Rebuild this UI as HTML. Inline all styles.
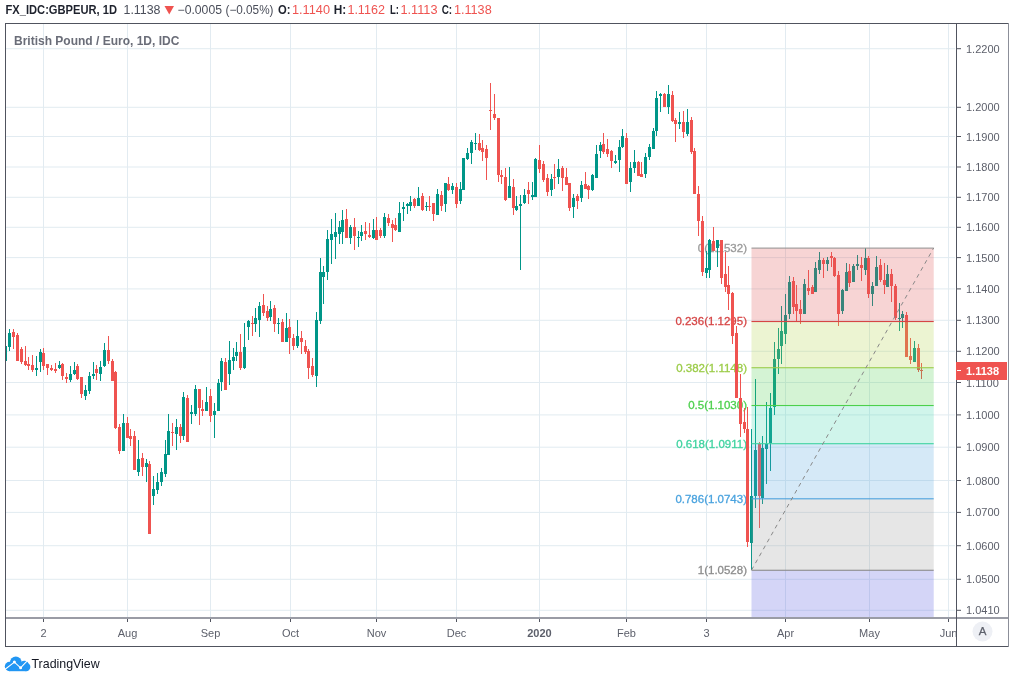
<!DOCTYPE html>
<html><head><meta charset="utf-8"><title>GBPEUR</title>
<style>
html,body{margin:0;padding:0;background:#fff;}
body{width:1010px;height:673px;overflow:hidden;position:relative;}
svg{position:absolute;left:0;top:0;display:block;}
text{font-family:'Liberation Sans', Arial, sans-serif;}
</style></head><body>
<svg width="1010" height="673" viewBox="0 0 1010 673" shape-rendering="crispEdges">
<defs><clipPath id="pane"><rect x="6" y="24" width="950" height="594"/></clipPath></defs>
<rect x="0" y="0" width="1010" height="673" fill="#ffffff"/>

<g>
<rect x="43" y="24" width="1" height="594" fill="#e2ebf1"/>
<rect x="127" y="24" width="1" height="594" fill="#e2ebf1"/>
<rect x="210" y="24" width="1" height="594" fill="#e2ebf1"/>
<rect x="290" y="24" width="1" height="594" fill="#e2ebf1"/>
<rect x="376" y="24" width="1" height="594" fill="#e2ebf1"/>
<rect x="456" y="24" width="1" height="594" fill="#e2ebf1"/>
<rect x="539" y="24" width="1" height="594" fill="#e2ebf1"/>
<rect x="626" y="24" width="1" height="594" fill="#e2ebf1"/>
<rect x="706" y="24" width="1" height="594" fill="#e2ebf1"/>
<rect x="785" y="24" width="1" height="594" fill="#e2ebf1"/>
<rect x="869" y="24" width="1" height="594" fill="#e2ebf1"/>
<rect x="948" y="24" width="1" height="594" fill="#e2ebf1"/>
<rect x="6" y="48.20" width="949" height="1" fill="#e2ebf1" shape-rendering="auto"/>
<rect x="6" y="106.80" width="949" height="1" fill="#e2ebf1" shape-rendering="auto"/>
<rect x="6" y="136.00" width="949" height="1" fill="#e2ebf1" shape-rendering="auto"/>
<rect x="6" y="166.50" width="949" height="1" fill="#e2ebf1" shape-rendering="auto"/>
<rect x="6" y="196.80" width="949" height="1" fill="#e2ebf1" shape-rendering="auto"/>
<rect x="6" y="226.80" width="949" height="1" fill="#e2ebf1" shape-rendering="auto"/>
<rect x="6" y="257.10" width="949" height="1" fill="#e2ebf1" shape-rendering="auto"/>
<rect x="6" y="288.40" width="949" height="1" fill="#e2ebf1" shape-rendering="auto"/>
<rect x="6" y="319.80" width="949" height="1" fill="#e2ebf1" shape-rendering="auto"/>
<rect x="6" y="350.80" width="949" height="1" fill="#e2ebf1" shape-rendering="auto"/>
<rect x="6" y="382.00" width="949" height="1" fill="#e2ebf1" shape-rendering="auto"/>
<rect x="6" y="414.40" width="949" height="1" fill="#e2ebf1" shape-rendering="auto"/>
<rect x="6" y="446.70" width="949" height="1" fill="#e2ebf1" shape-rendering="auto"/>
<rect x="6" y="480.00" width="949" height="1" fill="#e2ebf1" shape-rendering="auto"/>
<rect x="6" y="511.90" width="949" height="1" fill="#e2ebf1" shape-rendering="auto"/>
<rect x="6" y="545.20" width="949" height="1" fill="#e2ebf1" shape-rendering="auto"/>
<rect x="6" y="578.80" width="949" height="1" fill="#e2ebf1" shape-rendering="auto"/>
<rect x="6" y="609.80" width="949" height="1" fill="#e2ebf1" shape-rendering="auto"/>
</g>
<text x="747" y="251.95" font-size="11.5" fill="#999999" stroke="#999999" stroke-width="0.3" text-anchor="end">0(1.1532)</text>
<text x="747" y="325.38" font-size="11.5" fill="#d64545" stroke="#d64545" stroke-width="0.3" text-anchor="end">0.236(1.1295)</text>
<text x="747" y="371.58" font-size="11.5" fill="#9ccc49" stroke="#9ccc49" stroke-width="0.3" text-anchor="end">0.382(1.1148)</text>
<text x="747" y="409.37" font-size="11.5" fill="#4cd04c" stroke="#4cd04c" stroke-width="0.3" text-anchor="end">0.5(1.1030)</text>
<text x="747" y="447.56" font-size="11.5" fill="#3fd3a0" stroke="#3fd3a0" stroke-width="0.3" text-anchor="end">0.618(1.0911)</text>
<text x="747" y="502.66" font-size="11.5" fill="#4aa3df" stroke="#4aa3df" stroke-width="0.3" text-anchor="end">0.786(1.0743)</text>
<text x="747" y="574.11" font-size="11.5" fill="#8c8c8c" stroke="#8c8c8c" stroke-width="0.3" text-anchor="end">1(1.0528)</text>
<g clip-path="url(#pane)">
<rect x="5" y="345" width="1" height="17" fill="#009688"/>
<rect x="4" y="346" width="3" height="15" fill="#009688"/>
<rect x="9" y="329" width="1" height="22" fill="#009688"/>
<rect x="8" y="333" width="3" height="14" fill="#009688"/>
<rect x="13" y="329" width="1" height="20" fill="#ef5350"/>
<rect x="12" y="332" width="3" height="5" fill="#ef5350"/>
<rect x="17" y="333" width="1" height="28" fill="#ef5350"/>
<rect x="16" y="335" width="3" height="26" fill="#ef5350"/>
<rect x="21" y="347" width="1" height="17" fill="#ef5350"/>
<rect x="20" y="349" width="3" height="13" fill="#ef5350"/>
<rect x="25" y="346" width="1" height="20" fill="#ef5350"/>
<rect x="24" y="361" width="3" height="4" fill="#ef5350"/>
<rect x="28" y="357" width="1" height="13" fill="#ef5350"/>
<rect x="27" y="364" width="3" height="2" fill="#ef5350"/>
<rect x="32" y="355" width="1" height="17" fill="#ef5350"/>
<rect x="31" y="365" width="3" height="5" fill="#ef5350"/>
<rect x="36" y="356" width="1" height="20" fill="#009688"/>
<rect x="35" y="368" width="3" height="2" fill="#009688"/>
<rect x="40" y="349" width="1" height="23" fill="#009688"/>
<rect x="39" y="352" width="3" height="10" fill="#009688"/>
<rect x="43" y="348" width="1" height="22" fill="#ef5350"/>
<rect x="42" y="353" width="3" height="13" fill="#ef5350"/>
<rect x="47" y="364" width="1" height="11" fill="#ef5350"/>
<rect x="46" y="364" width="3" height="4" fill="#ef5350"/>
<rect x="51" y="365" width="1" height="6" fill="#ef5350"/>
<rect x="50" y="368" width="3" height="2" fill="#ef5350"/>
<rect x="55" y="363" width="1" height="10" fill="#ef5350"/>
<rect x="54" y="369" width="3" height="2" fill="#ef5350"/>
<rect x="59" y="361" width="1" height="8" fill="#009688"/>
<rect x="58" y="365" width="3" height="3" fill="#009688"/>
<rect x="62" y="363" width="1" height="17" fill="#ef5350"/>
<rect x="61" y="364" width="3" height="12" fill="#ef5350"/>
<rect x="66" y="373" width="1" height="10" fill="#ef5350"/>
<rect x="65" y="377" width="3" height="2" fill="#ef5350"/>
<rect x="70" y="366" width="1" height="16" fill="#009688"/>
<rect x="69" y="374" width="3" height="6" fill="#009688"/>
<rect x="74" y="362" width="1" height="13" fill="#009688"/>
<rect x="73" y="370" width="3" height="4" fill="#009688"/>
<rect x="77" y="364" width="1" height="16" fill="#ef5350"/>
<rect x="76" y="366" width="3" height="13" fill="#ef5350"/>
<rect x="81" y="377" width="1" height="21" fill="#ef5350"/>
<rect x="80" y="377" width="3" height="17" fill="#ef5350"/>
<rect x="85" y="385" width="1" height="15" fill="#009688"/>
<rect x="84" y="390" width="3" height="6" fill="#009688"/>
<rect x="89" y="372" width="1" height="22" fill="#009688"/>
<rect x="88" y="376" width="3" height="15" fill="#009688"/>
<rect x="93" y="362" width="1" height="17" fill="#009688"/>
<rect x="92" y="374" width="3" height="2" fill="#009688"/>
<rect x="96" y="365" width="1" height="15" fill="#ef5350"/>
<rect x="95" y="369" width="3" height="4" fill="#ef5350"/>
<rect x="100" y="361" width="1" height="20" fill="#009688"/>
<rect x="99" y="367" width="3" height="7" fill="#009688"/>
<rect x="104" y="343" width="1" height="24" fill="#009688"/>
<rect x="103" y="350" width="3" height="16" fill="#009688"/>
<rect x="108" y="336" width="1" height="28" fill="#ef5350"/>
<rect x="107" y="350" width="3" height="11" fill="#ef5350"/>
<rect x="112" y="359" width="1" height="22" fill="#ef5350"/>
<rect x="111" y="361" width="3" height="20" fill="#ef5350"/>
<rect x="115" y="371" width="1" height="58" fill="#ef5350"/>
<rect x="114" y="372" width="3" height="56" fill="#ef5350"/>
<rect x="119" y="424" width="1" height="30" fill="#ef5350"/>
<rect x="118" y="427" width="3" height="24" fill="#ef5350"/>
<rect x="123" y="414" width="1" height="37" fill="#009688"/>
<rect x="122" y="423" width="3" height="28" fill="#009688"/>
<rect x="127" y="417" width="1" height="21" fill="#ef5350"/>
<rect x="126" y="423" width="3" height="15" fill="#ef5350"/>
<rect x="130" y="429" width="1" height="17" fill="#ef5350"/>
<rect x="129" y="436" width="3" height="3" fill="#ef5350"/>
<rect x="134" y="431" width="1" height="39" fill="#ef5350"/>
<rect x="133" y="436" width="3" height="34" fill="#ef5350"/>
<rect x="138" y="440" width="1" height="36" fill="#009688"/>
<rect x="137" y="459" width="3" height="13" fill="#009688"/>
<rect x="142" y="453" width="1" height="23" fill="#ef5350"/>
<rect x="141" y="458" width="3" height="9" fill="#ef5350"/>
<rect x="146" y="459" width="1" height="23" fill="#009688"/>
<rect x="145" y="463" width="3" height="4" fill="#009688"/>
<rect x="149" y="461" width="1" height="73" fill="#ef5350"/>
<rect x="148" y="464" width="3" height="70" fill="#ef5350"/>
<rect x="153" y="476" width="1" height="29" fill="#009688"/>
<rect x="152" y="489" width="3" height="7" fill="#009688"/>
<rect x="157" y="473" width="1" height="21" fill="#009688"/>
<rect x="156" y="482" width="3" height="8" fill="#009688"/>
<rect x="161" y="468" width="1" height="18" fill="#009688"/>
<rect x="160" y="472" width="3" height="10" fill="#009688"/>
<rect x="165" y="440" width="1" height="37" fill="#009688"/>
<rect x="164" y="454" width="3" height="20" fill="#009688"/>
<rect x="168" y="414" width="1" height="41" fill="#009688"/>
<rect x="167" y="431" width="3" height="24" fill="#009688"/>
<rect x="172" y="423" width="1" height="23" fill="#ef5350"/>
<rect x="171" y="432" width="3" height="1" fill="#ef5350"/>
<rect x="176" y="419" width="1" height="31" fill="#009688"/>
<rect x="175" y="427" width="3" height="7" fill="#009688"/>
<rect x="180" y="424" width="1" height="19" fill="#ef5350"/>
<rect x="179" y="427" width="3" height="9" fill="#ef5350"/>
<rect x="183" y="392" width="1" height="48" fill="#009688"/>
<rect x="182" y="397" width="3" height="39" fill="#009688"/>
<rect x="187" y="395" width="1" height="47" fill="#ef5350"/>
<rect x="186" y="398" width="3" height="44" fill="#ef5350"/>
<rect x="191" y="405" width="1" height="19" fill="#009688"/>
<rect x="190" y="412" width="3" height="2" fill="#009688"/>
<rect x="195" y="385" width="1" height="31" fill="#009688"/>
<rect x="194" y="389" width="3" height="25" fill="#009688"/>
<rect x="199" y="389" width="1" height="36" fill="#ef5350"/>
<rect x="198" y="389" width="3" height="19" fill="#ef5350"/>
<rect x="202" y="400" width="1" height="16" fill="#ef5350"/>
<rect x="201" y="409" width="3" height="2" fill="#ef5350"/>
<rect x="206" y="387" width="1" height="24" fill="#009688"/>
<rect x="205" y="402" width="3" height="9" fill="#009688"/>
<rect x="210" y="389" width="1" height="33" fill="#ef5350"/>
<rect x="209" y="396" width="3" height="20" fill="#ef5350"/>
<rect x="214" y="403" width="1" height="35" fill="#009688"/>
<rect x="213" y="411" width="3" height="4" fill="#009688"/>
<rect x="218" y="379" width="1" height="32" fill="#009688"/>
<rect x="217" y="383" width="3" height="28" fill="#009688"/>
<rect x="221" y="358" width="1" height="33" fill="#009688"/>
<rect x="220" y="361" width="3" height="21" fill="#009688"/>
<rect x="225" y="358" width="1" height="32" fill="#ef5350"/>
<rect x="224" y="362" width="3" height="28" fill="#ef5350"/>
<rect x="229" y="341" width="1" height="44" fill="#009688"/>
<rect x="228" y="360" width="3" height="14" fill="#009688"/>
<rect x="233" y="348" width="1" height="22" fill="#009688"/>
<rect x="232" y="357" width="3" height="4" fill="#009688"/>
<rect x="236" y="342" width="1" height="19" fill="#009688"/>
<rect x="235" y="352" width="3" height="4" fill="#009688"/>
<rect x="240" y="334" width="1" height="36" fill="#ef5350"/>
<rect x="239" y="352" width="3" height="16" fill="#ef5350"/>
<rect x="244" y="323" width="1" height="46" fill="#009688"/>
<rect x="243" y="347" width="3" height="21" fill="#009688"/>
<rect x="248" y="320" width="1" height="20" fill="#009688"/>
<rect x="247" y="321" width="3" height="6" fill="#009688"/>
<rect x="252" y="316" width="1" height="20" fill="#ef5350"/>
<rect x="251" y="323" width="3" height="1" fill="#ef5350"/>
<rect x="255" y="308" width="1" height="24" fill="#009688"/>
<rect x="254" y="318" width="3" height="6" fill="#009688"/>
<rect x="259" y="302" width="1" height="35" fill="#009688"/>
<rect x="258" y="306" width="3" height="14" fill="#009688"/>
<rect x="263" y="294" width="1" height="22" fill="#ef5350"/>
<rect x="262" y="305" width="3" height="8" fill="#ef5350"/>
<rect x="267" y="306" width="1" height="15" fill="#ef5350"/>
<rect x="266" y="311" width="3" height="7" fill="#ef5350"/>
<rect x="270" y="301" width="1" height="20" fill="#009688"/>
<rect x="269" y="309" width="3" height="8" fill="#009688"/>
<rect x="274" y="305" width="1" height="27" fill="#ef5350"/>
<rect x="273" y="308" width="3" height="16" fill="#ef5350"/>
<rect x="278" y="318" width="1" height="16" fill="#009688"/>
<rect x="277" y="323" width="3" height="1" fill="#009688"/>
<rect x="282" y="319" width="1" height="23" fill="#ef5350"/>
<rect x="281" y="322" width="3" height="20" fill="#ef5350"/>
<rect x="286" y="313" width="1" height="29" fill="#009688"/>
<rect x="285" y="328" width="3" height="14" fill="#009688"/>
<rect x="289" y="319" width="1" height="35" fill="#ef5350"/>
<rect x="288" y="327" width="3" height="11" fill="#ef5350"/>
<rect x="293" y="334" width="1" height="16" fill="#ef5350"/>
<rect x="292" y="338" width="3" height="8" fill="#ef5350"/>
<rect x="297" y="320" width="1" height="28" fill="#009688"/>
<rect x="296" y="336" width="3" height="10" fill="#009688"/>
<rect x="301" y="331" width="1" height="23" fill="#ef5350"/>
<rect x="300" y="338" width="3" height="4" fill="#ef5350"/>
<rect x="305" y="340" width="1" height="14" fill="#ef5350"/>
<rect x="304" y="346" width="3" height="6" fill="#ef5350"/>
<rect x="308" y="349" width="1" height="30" fill="#ef5350"/>
<rect x="307" y="351" width="3" height="17" fill="#ef5350"/>
<rect x="312" y="358" width="1" height="19" fill="#ef5350"/>
<rect x="311" y="366" width="3" height="9" fill="#ef5350"/>
<rect x="316" y="312" width="1" height="75" fill="#009688"/>
<rect x="315" y="320" width="3" height="56" fill="#009688"/>
<rect x="320" y="258" width="1" height="66" fill="#009688"/>
<rect x="319" y="272" width="3" height="49" fill="#009688"/>
<rect x="323" y="266" width="1" height="38" fill="#009688"/>
<rect x="322" y="272" width="3" height="5" fill="#009688"/>
<rect x="327" y="230" width="1" height="50" fill="#009688"/>
<rect x="326" y="239" width="3" height="33" fill="#009688"/>
<rect x="331" y="219" width="1" height="45" fill="#009688"/>
<rect x="330" y="234" width="3" height="6" fill="#009688"/>
<rect x="335" y="213" width="1" height="46" fill="#009688"/>
<rect x="334" y="232" width="3" height="5" fill="#009688"/>
<rect x="339" y="221" width="1" height="23" fill="#009688"/>
<rect x="338" y="227" width="3" height="7" fill="#009688"/>
<rect x="342" y="210" width="1" height="34" fill="#009688"/>
<rect x="341" y="220" width="3" height="12" fill="#009688"/>
<rect x="346" y="209" width="1" height="29" fill="#ef5350"/>
<rect x="345" y="219" width="3" height="19" fill="#ef5350"/>
<rect x="350" y="225" width="1" height="19" fill="#009688"/>
<rect x="349" y="227" width="3" height="11" fill="#009688"/>
<rect x="354" y="218" width="1" height="32" fill="#ef5350"/>
<rect x="353" y="227" width="3" height="9" fill="#ef5350"/>
<rect x="358" y="231" width="1" height="16" fill="#009688"/>
<rect x="357" y="237" width="3" height="1" fill="#009688"/>
<rect x="361" y="225" width="1" height="16" fill="#009688"/>
<rect x="360" y="232" width="3" height="4" fill="#009688"/>
<rect x="365" y="222" width="1" height="18" fill="#ef5350"/>
<rect x="364" y="231" width="3" height="3" fill="#ef5350"/>
<rect x="369" y="223" width="1" height="15" fill="#ef5350"/>
<rect x="368" y="235" width="3" height="2" fill="#ef5350"/>
<rect x="373" y="219" width="1" height="20" fill="#009688"/>
<rect x="372" y="230" width="3" height="8" fill="#009688"/>
<rect x="376" y="217" width="1" height="23" fill="#ef5350"/>
<rect x="375" y="230" width="3" height="10" fill="#ef5350"/>
<rect x="380" y="228" width="1" height="10" fill="#ef5350"/>
<rect x="379" y="230" width="3" height="6" fill="#ef5350"/>
<rect x="384" y="213" width="1" height="25" fill="#009688"/>
<rect x="383" y="217" width="3" height="19" fill="#009688"/>
<rect x="388" y="214" width="1" height="12" fill="#ef5350"/>
<rect x="387" y="218" width="3" height="5" fill="#ef5350"/>
<rect x="392" y="220" width="1" height="22" fill="#ef5350"/>
<rect x="391" y="224" width="3" height="4" fill="#ef5350"/>
<rect x="395" y="218" width="1" height="13" fill="#ef5350"/>
<rect x="394" y="225" width="3" height="5" fill="#ef5350"/>
<rect x="399" y="202" width="1" height="30" fill="#009688"/>
<rect x="398" y="213" width="3" height="19" fill="#009688"/>
<rect x="403" y="202" width="1" height="19" fill="#009688"/>
<rect x="402" y="207" width="3" height="2" fill="#009688"/>
<rect x="407" y="203" width="1" height="11" fill="#009688"/>
<rect x="406" y="204" width="3" height="2" fill="#009688"/>
<rect x="410" y="196" width="1" height="15" fill="#009688"/>
<rect x="409" y="202" width="3" height="4" fill="#009688"/>
<rect x="414" y="198" width="1" height="10" fill="#ef5350"/>
<rect x="413" y="199" width="3" height="7" fill="#ef5350"/>
<rect x="418" y="187" width="1" height="19" fill="#009688"/>
<rect x="417" y="198" width="3" height="8" fill="#009688"/>
<rect x="422" y="193" width="1" height="18" fill="#ef5350"/>
<rect x="421" y="196" width="3" height="14" fill="#ef5350"/>
<rect x="426" y="202" width="1" height="9" fill="#009688"/>
<rect x="425" y="206" width="3" height="1" fill="#009688"/>
<rect x="429" y="196" width="1" height="15" fill="#ef5350"/>
<rect x="428" y="206" width="3" height="1" fill="#ef5350"/>
<rect x="433" y="203" width="1" height="18" fill="#ef5350"/>
<rect x="432" y="203" width="3" height="11" fill="#ef5350"/>
<rect x="437" y="189" width="1" height="26" fill="#009688"/>
<rect x="436" y="194" width="3" height="21" fill="#009688"/>
<rect x="441" y="191" width="1" height="20" fill="#ef5350"/>
<rect x="440" y="195" width="3" height="11" fill="#ef5350"/>
<rect x="445" y="183" width="1" height="29" fill="#009688"/>
<rect x="444" y="183" width="3" height="21" fill="#009688"/>
<rect x="448" y="177" width="1" height="14" fill="#ef5350"/>
<rect x="447" y="184" width="3" height="6" fill="#ef5350"/>
<rect x="452" y="183" width="1" height="11" fill="#009688"/>
<rect x="451" y="186" width="3" height="4" fill="#009688"/>
<rect x="456" y="183" width="1" height="25" fill="#ef5350"/>
<rect x="455" y="187" width="3" height="17" fill="#ef5350"/>
<rect x="460" y="182" width="1" height="22" fill="#009688"/>
<rect x="459" y="189" width="3" height="12" fill="#009688"/>
<rect x="463" y="158" width="1" height="32" fill="#009688"/>
<rect x="462" y="158" width="3" height="32" fill="#009688"/>
<rect x="467" y="148" width="1" height="12" fill="#009688"/>
<rect x="466" y="153" width="3" height="6" fill="#009688"/>
<rect x="471" y="140" width="1" height="24" fill="#009688"/>
<rect x="470" y="142" width="3" height="11" fill="#009688"/>
<rect x="475" y="133" width="1" height="17" fill="#009688"/>
<rect x="474" y="143" width="3" height="1" fill="#009688"/>
<rect x="479" y="134" width="1" height="17" fill="#ef5350"/>
<rect x="478" y="143" width="3" height="7" fill="#ef5350"/>
<rect x="482" y="140" width="1" height="21" fill="#ef5350"/>
<rect x="481" y="148" width="3" height="4" fill="#ef5350"/>
<rect x="486" y="145" width="1" height="35" fill="#ef5350"/>
<rect x="485" y="149" width="3" height="9" fill="#ef5350"/>
<rect x="490" y="83" width="1" height="47" fill="#ef5350"/>
<rect x="489" y="110" width="3" height="1" fill="#ef5350"/>
<rect x="494" y="94" width="1" height="26" fill="#ef5350"/>
<rect x="493" y="114" width="3" height="4" fill="#ef5350"/>
<rect x="498" y="118" width="1" height="64" fill="#ef5350"/>
<rect x="497" y="118" width="3" height="57" fill="#ef5350"/>
<rect x="501" y="170" width="1" height="14" fill="#ef5350"/>
<rect x="500" y="175" width="3" height="2" fill="#ef5350"/>
<rect x="505" y="168" width="1" height="33" fill="#ef5350"/>
<rect x="504" y="177" width="3" height="23" fill="#ef5350"/>
<rect x="509" y="167" width="1" height="31" fill="#009688"/>
<rect x="508" y="186" width="3" height="12" fill="#009688"/>
<rect x="513" y="179" width="1" height="36" fill="#ef5350"/>
<rect x="512" y="187" width="3" height="21" fill="#ef5350"/>
<rect x="516" y="196" width="1" height="15" fill="#009688"/>
<rect x="515" y="206" width="3" height="4" fill="#009688"/>
<rect x="520" y="195" width="1" height="75" fill="#009688"/>
<rect x="519" y="204" width="3" height="2" fill="#009688"/>
<rect x="524" y="189" width="1" height="15" fill="#009688"/>
<rect x="523" y="195" width="3" height="8" fill="#009688"/>
<rect x="528" y="182" width="1" height="22" fill="#ef5350"/>
<rect x="527" y="190" width="3" height="4" fill="#ef5350"/>
<rect x="532" y="182" width="1" height="18" fill="#009688"/>
<rect x="531" y="195" width="3" height="2" fill="#009688"/>
<rect x="535" y="158" width="1" height="39" fill="#009688"/>
<rect x="534" y="159" width="3" height="38" fill="#009688"/>
<rect x="539" y="145" width="1" height="28" fill="#ef5350"/>
<rect x="538" y="160" width="3" height="9" fill="#ef5350"/>
<rect x="543" y="161" width="1" height="21" fill="#ef5350"/>
<rect x="542" y="164" width="3" height="16" fill="#ef5350"/>
<rect x="547" y="174" width="1" height="22" fill="#ef5350"/>
<rect x="546" y="178" width="3" height="14" fill="#ef5350"/>
<rect x="551" y="174" width="1" height="22" fill="#009688"/>
<rect x="550" y="179" width="3" height="11" fill="#009688"/>
<rect x="554" y="164" width="1" height="25" fill="#ef5350"/>
<rect x="553" y="177" width="3" height="1" fill="#ef5350"/>
<rect x="558" y="159" width="1" height="25" fill="#009688"/>
<rect x="557" y="169" width="3" height="8" fill="#009688"/>
<rect x="562" y="166" width="1" height="25" fill="#ef5350"/>
<rect x="561" y="168" width="3" height="10" fill="#ef5350"/>
<rect x="566" y="168" width="1" height="17" fill="#ef5350"/>
<rect x="565" y="177" width="3" height="8" fill="#ef5350"/>
<rect x="569" y="183" width="1" height="28" fill="#ef5350"/>
<rect x="568" y="183" width="3" height="25" fill="#ef5350"/>
<rect x="573" y="194" width="1" height="24" fill="#009688"/>
<rect x="572" y="198" width="3" height="9" fill="#009688"/>
<rect x="577" y="194" width="1" height="15" fill="#ef5350"/>
<rect x="576" y="196" width="3" height="5" fill="#ef5350"/>
<rect x="581" y="181" width="1" height="21" fill="#009688"/>
<rect x="580" y="185" width="3" height="13" fill="#009688"/>
<rect x="585" y="172" width="1" height="17" fill="#ef5350"/>
<rect x="584" y="184" width="3" height="5" fill="#ef5350"/>
<rect x="588" y="185" width="1" height="14" fill="#ef5350"/>
<rect x="587" y="186" width="3" height="4" fill="#ef5350"/>
<rect x="592" y="174" width="1" height="17" fill="#009688"/>
<rect x="591" y="175" width="3" height="15" fill="#009688"/>
<rect x="596" y="145" width="1" height="33" fill="#009688"/>
<rect x="595" y="154" width="3" height="24" fill="#009688"/>
<rect x="600" y="142" width="1" height="16" fill="#009688"/>
<rect x="599" y="145" width="3" height="6" fill="#009688"/>
<rect x="603" y="133" width="1" height="21" fill="#ef5350"/>
<rect x="602" y="144" width="3" height="8" fill="#ef5350"/>
<rect x="607" y="139" width="1" height="18" fill="#ef5350"/>
<rect x="606" y="149" width="3" height="5" fill="#ef5350"/>
<rect x="611" y="150" width="1" height="18" fill="#ef5350"/>
<rect x="610" y="151" width="3" height="10" fill="#ef5350"/>
<rect x="615" y="155" width="1" height="9" fill="#009688"/>
<rect x="614" y="161" width="3" height="2" fill="#009688"/>
<rect x="619" y="140" width="1" height="32" fill="#009688"/>
<rect x="618" y="147" width="3" height="13" fill="#009688"/>
<rect x="622" y="129" width="1" height="19" fill="#009688"/>
<rect x="621" y="136" width="3" height="11" fill="#009688"/>
<rect x="626" y="133" width="1" height="51" fill="#ef5350"/>
<rect x="625" y="138" width="3" height="46" fill="#ef5350"/>
<rect x="630" y="162" width="1" height="30" fill="#009688"/>
<rect x="629" y="168" width="3" height="14" fill="#009688"/>
<rect x="634" y="150" width="1" height="23" fill="#009688"/>
<rect x="633" y="162" width="3" height="6" fill="#009688"/>
<rect x="638" y="161" width="1" height="15" fill="#ef5350"/>
<rect x="637" y="162" width="3" height="14" fill="#ef5350"/>
<rect x="641" y="162" width="1" height="15" fill="#ef5350"/>
<rect x="640" y="174" width="3" height="3" fill="#ef5350"/>
<rect x="645" y="153" width="1" height="25" fill="#009688"/>
<rect x="644" y="157" width="3" height="17" fill="#009688"/>
<rect x="649" y="144" width="1" height="16" fill="#009688"/>
<rect x="648" y="147" width="3" height="10" fill="#009688"/>
<rect x="653" y="128" width="1" height="21" fill="#009688"/>
<rect x="652" y="131" width="3" height="18" fill="#009688"/>
<rect x="656" y="91" width="1" height="45" fill="#009688"/>
<rect x="655" y="98" width="3" height="33" fill="#009688"/>
<rect x="660" y="93" width="1" height="19" fill="#009688"/>
<rect x="659" y="94" width="3" height="2" fill="#009688"/>
<rect x="664" y="93" width="1" height="14" fill="#ef5350"/>
<rect x="663" y="94" width="3" height="13" fill="#ef5350"/>
<rect x="668" y="85" width="1" height="29" fill="#009688"/>
<rect x="667" y="94" width="3" height="13" fill="#009688"/>
<rect x="672" y="91" width="1" height="31" fill="#ef5350"/>
<rect x="671" y="95" width="3" height="26" fill="#ef5350"/>
<rect x="675" y="118" width="1" height="24" fill="#ef5350"/>
<rect x="674" y="120" width="3" height="4" fill="#ef5350"/>
<rect x="679" y="112" width="1" height="17" fill="#009688"/>
<rect x="678" y="122" width="3" height="2" fill="#009688"/>
<rect x="683" y="111" width="1" height="27" fill="#ef5350"/>
<rect x="682" y="122" width="3" height="10" fill="#ef5350"/>
<rect x="687" y="109" width="1" height="27" fill="#009688"/>
<rect x="686" y="122" width="3" height="12" fill="#009688"/>
<rect x="691" y="117" width="1" height="37" fill="#ef5350"/>
<rect x="690" y="120" width="3" height="32" fill="#ef5350"/>
<rect x="694" y="148" width="1" height="46" fill="#ef5350"/>
<rect x="693" y="151" width="3" height="43" fill="#ef5350"/>
<rect x="698" y="186" width="1" height="50" fill="#ef5350"/>
<rect x="697" y="194" width="3" height="27" fill="#ef5350"/>
<rect x="702" y="216" width="1" height="60" fill="#ef5350"/>
<rect x="701" y="221" width="3" height="51" fill="#ef5350"/>
<rect x="706" y="251" width="1" height="27" fill="#009688"/>
<rect x="705" y="268" width="3" height="5" fill="#009688"/>
<rect x="709" y="239" width="1" height="39" fill="#009688"/>
<rect x="708" y="240" width="3" height="30" fill="#009688"/>
<rect x="713" y="227" width="1" height="24" fill="#ef5350"/>
<rect x="712" y="241" width="3" height="10" fill="#ef5350"/>
<rect x="717" y="240" width="1" height="27" fill="#009688"/>
<rect x="716" y="240" width="3" height="8" fill="#009688"/>
<rect x="721" y="240" width="1" height="44" fill="#ef5350"/>
<rect x="720" y="240" width="3" height="38" fill="#ef5350"/>
<rect x="725" y="252" width="1" height="40" fill="#ef5350"/>
<rect x="724" y="274" width="3" height="13" fill="#ef5350"/>
<rect x="728" y="266" width="1" height="44" fill="#ef5350"/>
<rect x="727" y="285" width="3" height="9" fill="#ef5350"/>
<rect x="732" y="292" width="1" height="52" fill="#ef5350"/>
<rect x="731" y="293" width="3" height="43" fill="#ef5350"/>
<rect x="736" y="326" width="1" height="72" fill="#ef5350"/>
<rect x="735" y="333" width="3" height="65" fill="#ef5350"/>
<rect x="740" y="374" width="1" height="63" fill="#ef5350"/>
<rect x="739" y="398" width="3" height="26" fill="#ef5350"/>
<rect x="744" y="408" width="1" height="25" fill="#ef5350"/>
<rect x="743" y="422" width="3" height="7" fill="#ef5350"/>
<rect x="747" y="407" width="1" height="140" fill="#ef5350"/>
<rect x="746" y="429" width="3" height="113" fill="#ef5350"/>
<rect x="751" y="429" width="1" height="141" fill="#009688"/>
<rect x="750" y="496" width="3" height="47" fill="#009688"/>
<rect x="755" y="379" width="1" height="129" fill="#009688"/>
<rect x="754" y="450" width="3" height="46" fill="#009688"/>
<rect x="759" y="442" width="1" height="86" fill="#ef5350"/>
<rect x="758" y="444" width="3" height="52" fill="#ef5350"/>
<rect x="762" y="436" width="1" height="68" fill="#009688"/>
<rect x="761" y="448" width="3" height="50" fill="#009688"/>
<rect x="766" y="402" width="1" height="82" fill="#009688"/>
<rect x="765" y="444" width="3" height="5" fill="#009688"/>
<rect x="770" y="393" width="1" height="78" fill="#009688"/>
<rect x="769" y="408" width="3" height="35" fill="#009688"/>
<rect x="774" y="342" width="1" height="73" fill="#009688"/>
<rect x="773" y="359" width="3" height="48" fill="#009688"/>
<rect x="778" y="328" width="1" height="46" fill="#009688"/>
<rect x="777" y="349" width="3" height="10" fill="#009688"/>
<rect x="781" y="306" width="1" height="58" fill="#009688"/>
<rect x="780" y="331" width="3" height="15" fill="#009688"/>
<rect x="785" y="294" width="1" height="50" fill="#009688"/>
<rect x="784" y="315" width="3" height="19" fill="#009688"/>
<rect x="789" y="276" width="1" height="43" fill="#009688"/>
<rect x="788" y="282" width="3" height="32" fill="#009688"/>
<rect x="793" y="277" width="1" height="37" fill="#ef5350"/>
<rect x="792" y="281" width="3" height="26" fill="#ef5350"/>
<rect x="796" y="285" width="1" height="36" fill="#ef5350"/>
<rect x="795" y="304" width="3" height="7" fill="#ef5350"/>
<rect x="800" y="300" width="1" height="24" fill="#ef5350"/>
<rect x="799" y="309" width="3" height="5" fill="#ef5350"/>
<rect x="804" y="279" width="1" height="35" fill="#009688"/>
<rect x="803" y="284" width="3" height="30" fill="#009688"/>
<rect x="808" y="270" width="1" height="25" fill="#ef5350"/>
<rect x="807" y="288" width="3" height="3" fill="#ef5350"/>
<rect x="812" y="285" width="1" height="9" fill="#ef5350"/>
<rect x="811" y="287" width="3" height="7" fill="#ef5350"/>
<rect x="815" y="262" width="1" height="30" fill="#009688"/>
<rect x="814" y="268" width="3" height="24" fill="#009688"/>
<rect x="819" y="252" width="1" height="22" fill="#009688"/>
<rect x="818" y="260" width="3" height="10" fill="#009688"/>
<rect x="823" y="258" width="1" height="20" fill="#ef5350"/>
<rect x="822" y="260" width="3" height="4" fill="#ef5350"/>
<rect x="827" y="257" width="1" height="14" fill="#009688"/>
<rect x="826" y="260" width="3" height="4" fill="#009688"/>
<rect x="831" y="252" width="1" height="15" fill="#ef5350"/>
<rect x="830" y="256" width="3" height="2" fill="#ef5350"/>
<rect x="834" y="257" width="1" height="20" fill="#ef5350"/>
<rect x="833" y="258" width="3" height="18" fill="#ef5350"/>
<rect x="838" y="271" width="1" height="55" fill="#ef5350"/>
<rect x="837" y="275" width="3" height="39" fill="#ef5350"/>
<rect x="842" y="289" width="1" height="25" fill="#009688"/>
<rect x="841" y="290" width="3" height="21" fill="#009688"/>
<rect x="846" y="263" width="1" height="28" fill="#009688"/>
<rect x="845" y="272" width="3" height="19" fill="#009688"/>
<rect x="849" y="264" width="1" height="23" fill="#ef5350"/>
<rect x="848" y="271" width="3" height="12" fill="#ef5350"/>
<rect x="853" y="264" width="1" height="18" fill="#009688"/>
<rect x="852" y="266" width="3" height="16" fill="#009688"/>
<rect x="857" y="255" width="1" height="15" fill="#009688"/>
<rect x="856" y="264" width="3" height="2" fill="#009688"/>
<rect x="861" y="257" width="1" height="24" fill="#ef5350"/>
<rect x="860" y="265" width="3" height="3" fill="#ef5350"/>
<rect x="865" y="248" width="1" height="27" fill="#009688"/>
<rect x="864" y="258" width="3" height="12" fill="#009688"/>
<rect x="868" y="256" width="1" height="42" fill="#ef5350"/>
<rect x="867" y="258" width="3" height="36" fill="#ef5350"/>
<rect x="872" y="282" width="1" height="24" fill="#009688"/>
<rect x="871" y="286" width="3" height="8" fill="#009688"/>
<rect x="876" y="256" width="1" height="30" fill="#009688"/>
<rect x="875" y="267" width="3" height="19" fill="#009688"/>
<rect x="880" y="259" width="1" height="23" fill="#ef5350"/>
<rect x="879" y="265" width="3" height="15" fill="#ef5350"/>
<rect x="884" y="263" width="1" height="31" fill="#ef5350"/>
<rect x="883" y="280" width="3" height="5" fill="#ef5350"/>
<rect x="887" y="265" width="1" height="22" fill="#009688"/>
<rect x="886" y="274" width="3" height="13" fill="#009688"/>
<rect x="891" y="269" width="1" height="33" fill="#ef5350"/>
<rect x="890" y="274" width="3" height="12" fill="#ef5350"/>
<rect x="895" y="284" width="1" height="36" fill="#ef5350"/>
<rect x="894" y="286" width="3" height="32" fill="#ef5350"/>
<rect x="899" y="303" width="1" height="28" fill="#009688"/>
<rect x="898" y="318" width="3" height="1" fill="#009688"/>
<rect x="902" y="311" width="1" height="17" fill="#009688"/>
<rect x="901" y="314" width="3" height="4" fill="#009688"/>
<rect x="906" y="312" width="1" height="45" fill="#ef5350"/>
<rect x="905" y="315" width="3" height="42" fill="#ef5350"/>
<rect x="910" y="338" width="1" height="26" fill="#ef5350"/>
<rect x="909" y="356" width="3" height="4" fill="#ef5350"/>
<rect x="914" y="341" width="1" height="21" fill="#009688"/>
<rect x="913" y="348" width="3" height="14" fill="#009688"/>
<rect x="918" y="344" width="1" height="28" fill="#ef5350"/>
<rect x="917" y="348" width="3" height="22" fill="#ef5350"/>
<rect x="921" y="363" width="1" height="16" fill="#ef5350"/>
<rect x="920" y="370" width="3" height="1" fill="#ef5350"/>
</g>
<g clip-path="url(#pane)" shape-rendering="auto">
<rect x="751.5" y="247.95" width="182.20000000000005" height="73.43" fill="#e05252" fill-opacity="0.25"/>
<rect x="751.5" y="321.38" width="182.20000000000005" height="46.20" fill="#b4d44d" fill-opacity="0.25"/>
<rect x="751.5" y="367.58" width="182.20000000000005" height="37.79" fill="#52d152" fill-opacity="0.25"/>
<rect x="751.5" y="405.37" width="182.20000000000005" height="38.19" fill="#45d6ae" fill-opacity="0.25"/>
<rect x="751.5" y="443.56" width="182.20000000000005" height="55.10" fill="#57a8e0" fill-opacity="0.25"/>
<rect x="751.5" y="498.66" width="182.20000000000005" height="71.45" fill="#9a9a9a" fill-opacity="0.25"/>
<rect x="751.5" y="570.11" width="182.20000000000005" height="47.89" fill="#5458e0" fill-opacity="0.25"/>
<rect x="751.5" y="247.55" width="182.20" height="1.1" fill="#999999"/>
<rect x="751.5" y="320.98" width="182.20" height="1.1" fill="#d64545"/>
<rect x="751.5" y="367.18" width="182.20" height="1.1" fill="#9ccc49"/>
<rect x="751.5" y="404.97" width="182.20" height="1.1" fill="#4cd04c"/>
<rect x="751.5" y="443.16" width="182.20" height="1.1" fill="#3fd3a0"/>
<rect x="751.5" y="498.26" width="182.20" height="1.1" fill="#4aa3df"/>
<rect x="751.5" y="569.71" width="182.20" height="1.1" fill="#8c8c8c"/>
<line x1="751.5" y1="570.11" x2="933.7" y2="247.95" stroke="#888" stroke-width="1" stroke-dasharray="4,4"/>
</g>
<rect x="5" y="617" width="1004" height="2" fill="#9a9ca5"/>
<rect x="5" y="23" width="1004" height="1" fill="#50535e"/>
<rect x="5" y="646" width="1004" height="1" fill="#50535e"/>
<rect x="5" y="23" width="1" height="624" fill="#50535e"/>
<rect x="1008" y="23" width="1" height="624" fill="#8c8f99"/>
<rect x="956" y="23" width="1" height="624" fill="#50535e"/>
<rect x="957" y="48.20" width="4" height="1" fill="#50535e" shape-rendering="auto"/>
<text x="966" y="52.7" font-size="11" fill="#5d606b">1.2200</text>
<rect x="957" y="106.80" width="4" height="1" fill="#50535e" shape-rendering="auto"/>
<text x="966" y="111.3" font-size="11" fill="#5d606b">1.2000</text>
<rect x="957" y="136.00" width="4" height="1" fill="#50535e" shape-rendering="auto"/>
<text x="966" y="140.5" font-size="11" fill="#5d606b">1.1900</text>
<rect x="957" y="166.50" width="4" height="1" fill="#50535e" shape-rendering="auto"/>
<text x="966" y="171.0" font-size="11" fill="#5d606b">1.1800</text>
<rect x="957" y="196.80" width="4" height="1" fill="#50535e" shape-rendering="auto"/>
<text x="966" y="201.3" font-size="11" fill="#5d606b">1.1700</text>
<rect x="957" y="226.80" width="4" height="1" fill="#50535e" shape-rendering="auto"/>
<text x="966" y="231.3" font-size="11" fill="#5d606b">1.1600</text>
<rect x="957" y="257.10" width="4" height="1" fill="#50535e" shape-rendering="auto"/>
<text x="966" y="261.6" font-size="11" fill="#5d606b">1.1500</text>
<rect x="957" y="288.40" width="4" height="1" fill="#50535e" shape-rendering="auto"/>
<text x="966" y="292.9" font-size="11" fill="#5d606b">1.1400</text>
<rect x="957" y="319.80" width="4" height="1" fill="#50535e" shape-rendering="auto"/>
<text x="966" y="324.3" font-size="11" fill="#5d606b">1.1300</text>
<rect x="957" y="350.80" width="4" height="1" fill="#50535e" shape-rendering="auto"/>
<text x="966" y="355.3" font-size="11" fill="#5d606b">1.1200</text>
<rect x="957" y="382.00" width="4" height="1" fill="#50535e" shape-rendering="auto"/>
<text x="966" y="386.5" font-size="11" fill="#5d606b">1.1100</text>
<rect x="957" y="414.40" width="4" height="1" fill="#50535e" shape-rendering="auto"/>
<text x="966" y="418.9" font-size="11" fill="#5d606b">1.1000</text>
<rect x="957" y="446.70" width="4" height="1" fill="#50535e" shape-rendering="auto"/>
<text x="966" y="451.2" font-size="11" fill="#5d606b">1.0900</text>
<rect x="957" y="480.00" width="4" height="1" fill="#50535e" shape-rendering="auto"/>
<text x="966" y="484.5" font-size="11" fill="#5d606b">1.0800</text>
<rect x="957" y="511.90" width="4" height="1" fill="#50535e" shape-rendering="auto"/>
<text x="966" y="516.4" font-size="11" fill="#5d606b">1.0700</text>
<rect x="957" y="545.20" width="4" height="1" fill="#50535e" shape-rendering="auto"/>
<text x="966" y="549.7" font-size="11" fill="#5d606b">1.0600</text>
<rect x="957" y="578.80" width="4" height="1" fill="#50535e" shape-rendering="auto"/>
<text x="966" y="583.3" font-size="11" fill="#5d606b">1.0500</text>
<rect x="957" y="609.80" width="4" height="1" fill="#50535e" shape-rendering="auto"/>
<text x="966" y="614.3" font-size="11" fill="#5d606b">1.0410</text>
<rect x="43" y="619" width="1" height="3" fill="#50535e"/>
<text x="43.5" y="637" font-size="11" fill="#5d606b" text-anchor="middle">2</text>
<rect x="127" y="619" width="1" height="3" fill="#50535e"/>
<text x="127.5" y="637" font-size="11" fill="#5d606b" text-anchor="middle">Aug</text>
<rect x="210" y="619" width="1" height="3" fill="#50535e"/>
<text x="210.5" y="637" font-size="11" fill="#5d606b" text-anchor="middle">Sep</text>
<rect x="290" y="619" width="1" height="3" fill="#50535e"/>
<text x="290.5" y="637" font-size="11" fill="#5d606b" text-anchor="middle">Oct</text>
<rect x="376" y="619" width="1" height="3" fill="#50535e"/>
<text x="376.5" y="637" font-size="11" fill="#5d606b" text-anchor="middle">Nov</text>
<rect x="456" y="619" width="1" height="3" fill="#50535e"/>
<text x="456.5" y="637" font-size="11" fill="#5d606b" text-anchor="middle">Dec</text>
<rect x="539" y="619" width="1" height="3" fill="#50535e"/>
<text x="539.5" y="637" font-size="11" fill="#5d606b" text-anchor="middle" font-weight="bold">2020</text>
<rect x="626" y="619" width="1" height="3" fill="#50535e"/>
<text x="626.5" y="637" font-size="11" fill="#5d606b" text-anchor="middle">Feb</text>
<rect x="706" y="619" width="1" height="3" fill="#50535e"/>
<text x="706.5" y="637" font-size="11" fill="#5d606b" text-anchor="middle">3</text>
<rect x="785" y="619" width="1" height="3" fill="#50535e"/>
<text x="785.5" y="637" font-size="11" fill="#5d606b" text-anchor="middle">Apr</text>
<rect x="869" y="619" width="1" height="3" fill="#50535e"/>
<text x="869.5" y="637" font-size="11" fill="#5d606b" text-anchor="middle">May</text>
<rect x="948" y="619" width="1" height="3" fill="#50535e"/>
<text x="948.5" y="637" font-size="11" fill="#5d606b" text-anchor="middle">Jun</text>
<rect x="957" y="619" width="51" height="27" fill="#ffffff"/>
<rect x="956" y="619" width="1" height="28" fill="#50535e"/>
<circle cx="982.5" cy="631.5" r="10" fill="#eef0f5" shape-rendering="auto"/>
<text x="982.5" y="635.2" font-size="11.5" fill="#5d606b" stroke="#5d606b" stroke-width="0.25" text-anchor="middle">A</text>
<rect x="956" y="362" width="51" height="18" fill="#ef5350"/>
<rect x="957" y="370" width="4" height="1" fill="#ffffff"/>
<text x="966" y="375.4" font-size="11" fill="#ffffff" font-weight="bold">1.1138</text>
<text x="14" y="44.6" font-size="12" font-weight="bold" fill="#6a6d78">British Pound / Euro, 1D, IDC</text>
<text x="5.5" y="14" font-size="12" fill="#1e222d" font-weight="bold" textLength="111.5" lengthAdjust="spacingAndGlyphs">FX_IDC:GBPEUR, 1D</text>
<text x="123.5" y="14" font-size="12" fill="#4a4e5a" textLength="37" lengthAdjust="spacingAndGlyphs">1.1138</text>
<path d="M164.5 6 L174 6 L169.25 14.5 Z" fill="#ef5350" shape-rendering="auto"/>
<text x="177.5" y="14" font-size="12" fill="#4a4e5a" textLength="44.5" lengthAdjust="spacingAndGlyphs">−0.0005</text>
<text x="225.5" y="14" font-size="12" fill="#4a4e5a" textLength="48" lengthAdjust="spacingAndGlyphs">(−0.05%)</text>
<text x="278" y="14" font-size="12" fill="#1e222d" font-weight="bold" textLength="12.5" lengthAdjust="spacingAndGlyphs">O:</text>
<text x="292" y="14" font-size="12" fill="#ef5350" textLength="38" lengthAdjust="spacingAndGlyphs">1.1140</text>
<text x="333.7" y="14" font-size="12" fill="#1e222d" font-weight="bold" textLength="12.5" lengthAdjust="spacingAndGlyphs">H:</text>
<text x="347.4" y="14" font-size="12" fill="#ef5350" textLength="37.5" lengthAdjust="spacingAndGlyphs">1.1162</text>
<text x="389.9" y="14" font-size="12" fill="#1e222d" font-weight="bold" textLength="9" lengthAdjust="spacingAndGlyphs">L:</text>
<text x="400.5" y="14" font-size="12" fill="#ef5350" textLength="37" lengthAdjust="spacingAndGlyphs">1.1113</text>
<text x="441.7" y="14" font-size="12" fill="#1e222d" font-weight="bold" textLength="10.5" lengthAdjust="spacingAndGlyphs">C:</text>
<text x="453.9" y="14" font-size="12" fill="#ef5350" textLength="37.8" lengthAdjust="spacingAndGlyphs">1.1138</text>
<g shape-rendering="auto" fill="#2196f3">
<circle cx="9.5" cy="666.5" r="4.7"/>
<circle cx="15.8" cy="662.4" r="5.9"/>
<circle cx="24.4" cy="664.8" r="4.1"/>
<circle cx="26.2" cy="667" r="4.2"/>
<rect x="9.5" y="664" width="16.7" height="7.2"/>
<polyline points="4.5,669.8 14.4,662.1 20.6,667.8 26,662.1 29,659.6" fill="none" stroke="#ffffff" stroke-width="1.1"/>
<circle cx="14.4" cy="662.1" r="1.5" fill="#ffffff"/>
<circle cx="20.6" cy="667.8" r="1.5" fill="#ffffff"/>
</g>
<text x="31.5" y="668.3" font-size="12.4" fill="#131722">TradingView</text>
</svg></body></html>
